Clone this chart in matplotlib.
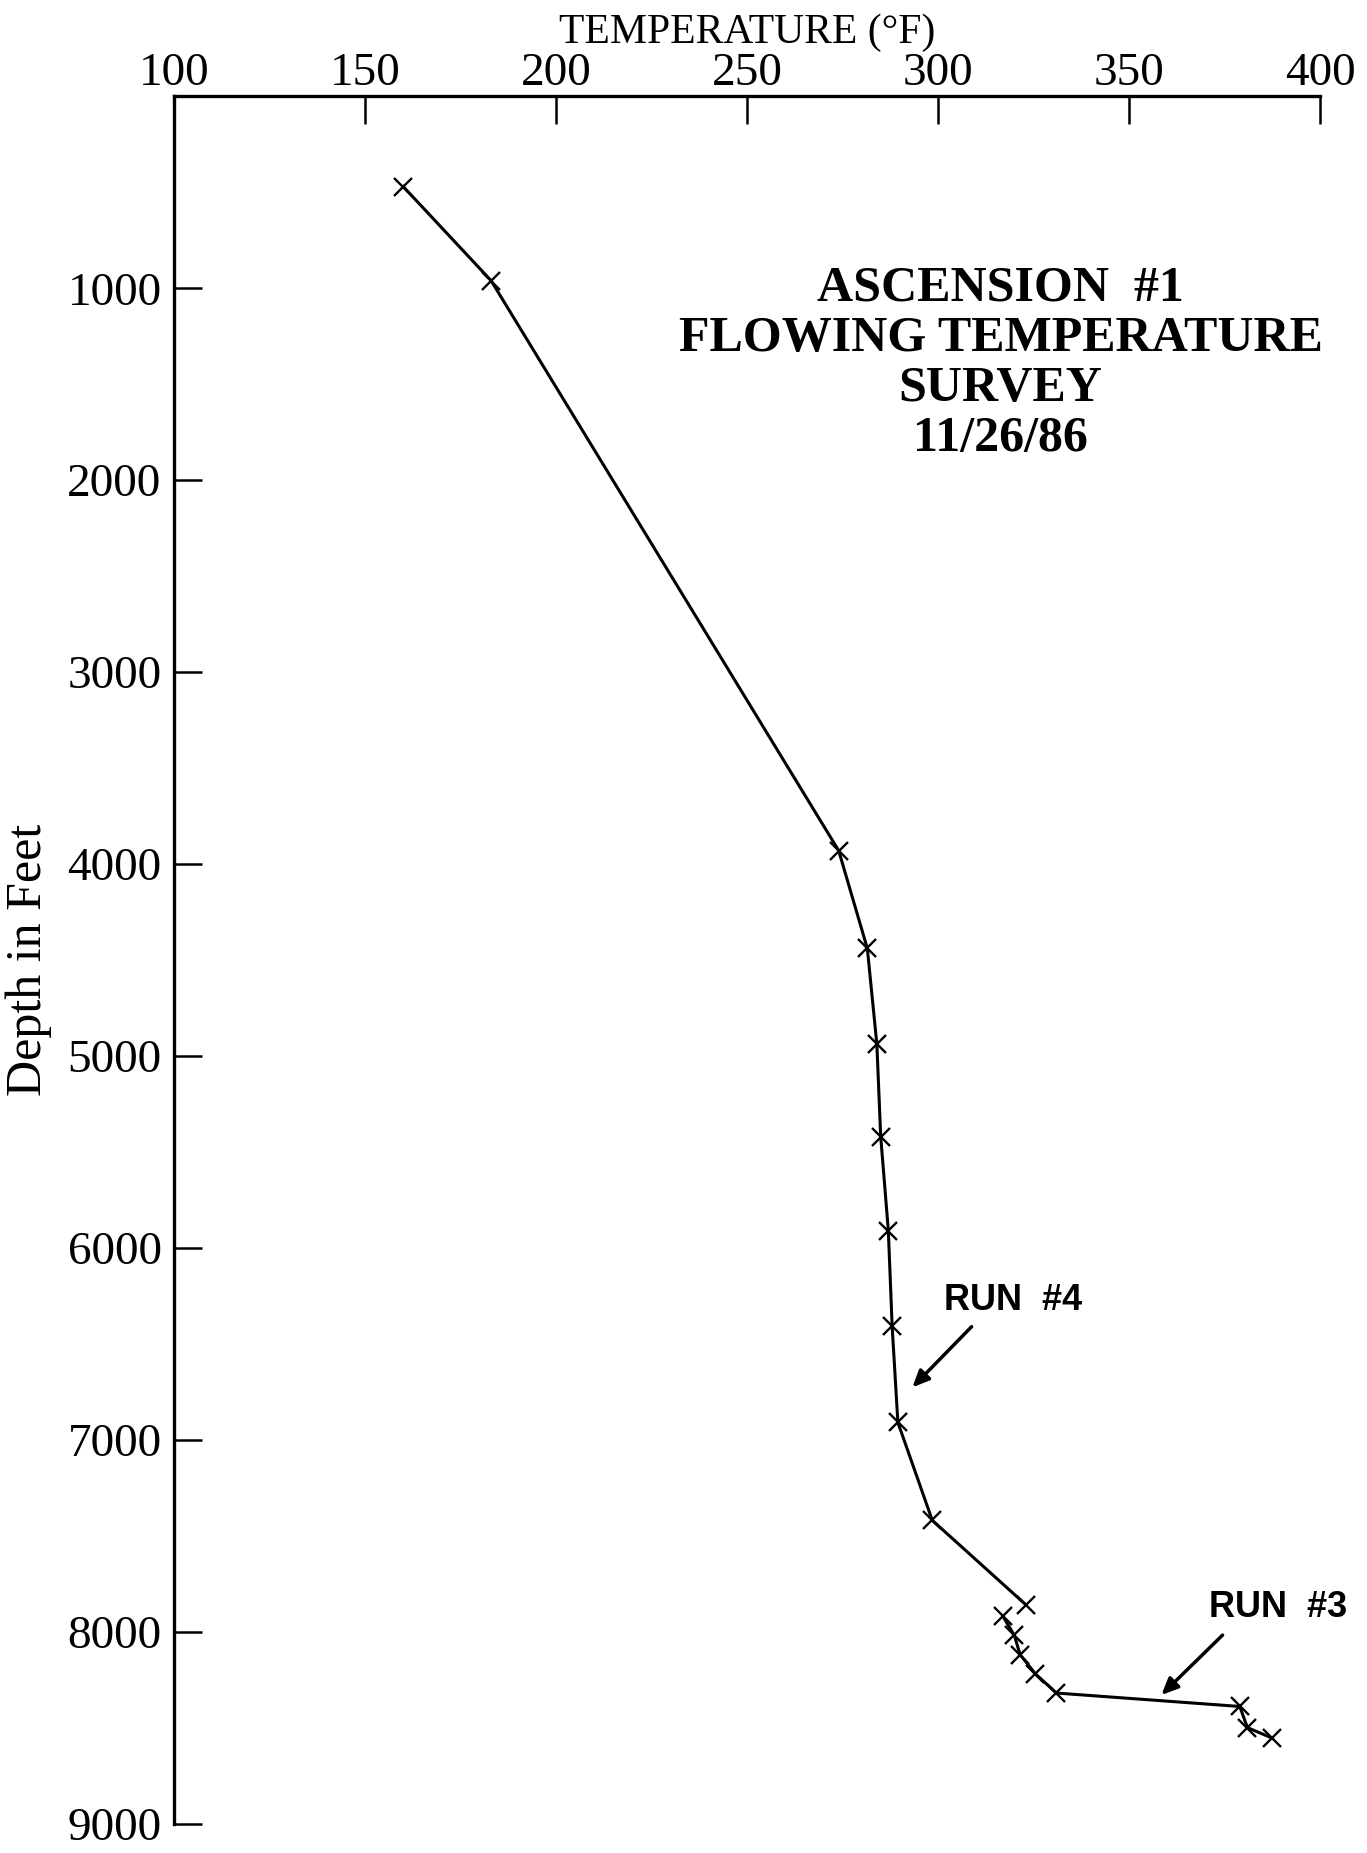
import matplotlib.pyplot as plt

# flowing temperature survey, two logging runs
run4_temp = [160, 183, 274, 281.5, 284, 285, 287, 288, 289.5, 298.5, 323]
run4_depth = [470, 960, 3930, 4440, 4940, 5420, 5910, 6410, 6910, 7420, 7860]
run3_temp = [317, 320, 321.5, 325.5, 331, 379, 381, 387.5]
run3_depth = [7920, 8020, 8120, 8220, 8320, 8390, 8500, 8555]

xticks = [100, 150, 200, 250, 300, 350, 400]
yticks = [1000, 2000, 3000, 4000, 5000, 6000, 7000, 8000, 9000]

serif = 'Liberation Serif'
sans = 'Liberation Sans'

fig = plt.figure(figsize=(13.67, 18.53), dpi=100)
ax = fig.add_axes([0.1273, 0.0159, 0.8383, 0.9321])

ax.plot(run4_temp, run4_depth, 'k-', lw=2.2)
ax.plot(run4_temp, run4_depth, 'kx', ms=13, mew=1.7)
ax.plot(run3_temp, run3_depth, 'k-', lw=2.2)
ax.plot(run3_temp, run3_depth, 'kx', ms=13, mew=1.7)

ax.set_xlim(100, 400)
ax.set_ylim(9000, 0)

ax.spines['right'].set_visible(False)
ax.spines['bottom'].set_visible(False)
ax.spines['left'].set_linewidth(2.4)
ax.spines['top'].set_linewidth(2.4)

ax.xaxis.tick_top()
ax.xaxis.set_label_position('top')
ax.set_xticks(xticks)
ax.set_yticks(yticks)
ax.tick_params(axis='both', direction='in', length=20, width=1.8)
ax.tick_params(axis='x', pad=1)
ax.tick_params(axis='y', pad=9)
for lab in ax.get_xticklabels() + ax.get_yticklabels():
    lab.set_fontfamily(serif)
    lab.set_fontsize(34)

ax.set_xlabel('TEMPERATURE (°F)', fontfamily=serif, fontsize=30, labelpad=7)
ax.set_ylabel('Depth in Feet', fontfamily=serif, fontsize=36, labelpad=11)

ax.text(316.4, 1395, 'ASCENSION  #1\nFLOWING TEMPERATURE\nSURVEY\n11/26/86',
        ha='center', va='center', fontfamily=serif, fontweight='bold',
        fontsize=36, linespacing=1.12)

ax.text(319.8, 6272, 'RUN  #4', ha='center', va='center',
        fontfamily=sans, fontweight='bold', fontsize=26)
ax.annotate('', xy=(293.3, 6727), xytext=(308.8, 6411),
            arrowprops=dict(arrowstyle='-|>,head_length=1.0,head_width=0.45',
                            color='k', lw=2.5, shrinkA=0, shrinkB=0))

ax.text(388.9, 7874, 'RUN  #3', ha='center', va='center',
        fontfamily=sans, fontweight='bold', fontsize=26)
ax.annotate('', xy=(358.5, 8330), xytext=(374.5, 8018),
            arrowprops=dict(arrowstyle='-|>,head_length=1.0,head_width=0.45',
                            color='k', lw=2.5, shrinkA=0, shrinkB=0))

fig.savefig('out.png', dpi=100)
